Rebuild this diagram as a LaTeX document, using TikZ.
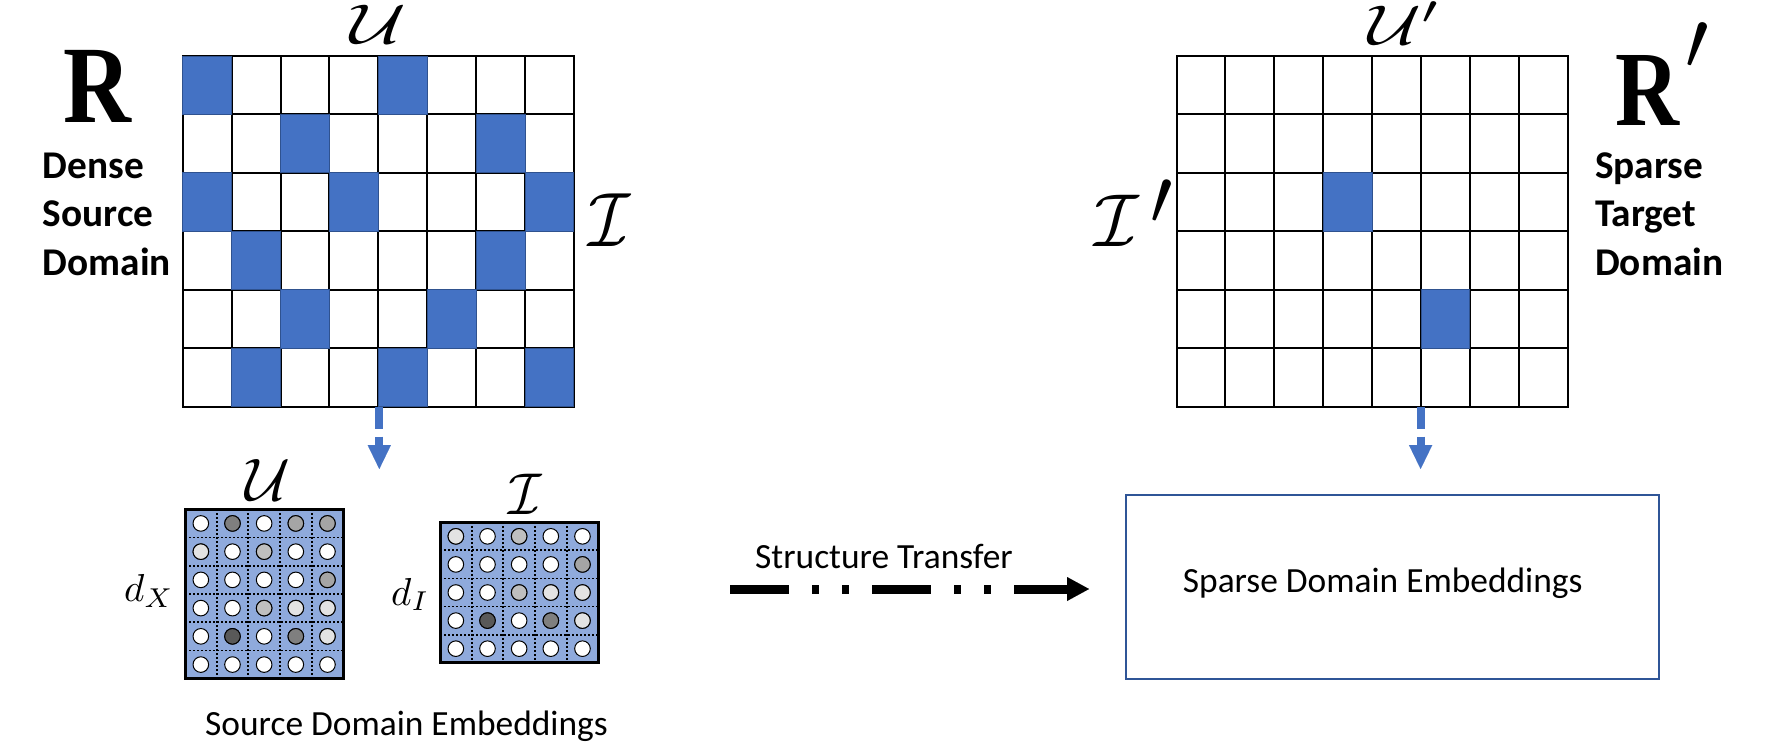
\documentclass[tikz,border=0pt]{standalone}
\usepackage{fontspec}
\setsansfont{Carlito}
\newfontfamily\rserif{Liberation Serif}
\usetikzlibrary{arrows.meta}
\definecolor{cblue}{HTML}{4472C4}
\definecolor{cbluedark}{HTML}{2F528F}
\definecolor{cemb}{HTML}{8FAADC}
\definecolor{cbox}{HTML}{2F5597}
\definecolor{ga}{HTML}{E3E3E3}
\definecolor{gb}{HTML}{BFBFBF}
\definecolor{gc}{HTML}{A5A5A5}
\definecolor{gd}{HTML}{7F7F7F}
\definecolor{ge}{HTML}{595959}
\newcommand{\mathlab}[3]{\scalebox{#1}[#2]{\normalsize$#3$}}
\begin{document}
\begin{tikzpicture}[x=1pt,y=-1pt,
  gridline/.style={line width=2pt, draw=black, line cap=rect},
  bluecell/.style={fill=cblue, draw=cbluedark, line width=1pt},
  dotline/.style={line width=1.8pt, draw=black, dash pattern=on 2pt off 2pt},
  dotc/.style={draw=black, line width=1pt},
  embborder/.style={draw=black, line width=3pt},
  blueflow/.style={draw=cblue, line width=8pt, dash pattern=on 22.6pt off 7.4pt,
    -{Triangle[length=24pt,width=23.3pt,line width=0.01pt]}},
  transfer/.style={draw=black, line width=9pt,
    dash pattern=on 59pt off 23pt on 7.3pt off 22.7pt on 7.3pt off 22.7pt,
    -{Triangle[length=22pt,width=24pt,line width=0.01pt]}},
  rlab/.style={font=\rserif\bfseries\fontsize{108}{108}\selectfont, inner sep=0pt, anchor=base west},
  boldlab/.style={font=\sffamily\bfseries\fontsize{39.3}{39.3}\selectfont, inner sep=0pt, anchor=base west},
  normlab/.style={font=\sffamily\fontsize{35.4}{35.4}\selectfont, inner sep=0pt, anchor=base west},
  cal/.style={inner sep=0pt}
]
\useasboundingbox (0,0) rectangle (1787,753);

% ---------- left matrix R ----------
\foreach \i in {0,...,8}{\draw[gridline] ({182.7+48.9*\i},56) -- ({182.7+48.9*\i},406.7);}
\foreach \j in {0,...,6}{\draw[gridline] (182.7,{56+58.45*\j}) -- (573.9,{56+58.45*\j});}
\foreach \r/\c in {0/0,0/4,1/2,1/6,2/0,2/3,2/7,3/1,3/6,4/2,4/5,5/1,5/4,5/7}{
  \draw[bluecell] ({182.7+48.9*\c},{56+58.45*\r}) rectangle ++(48.9,58.45);}

\node[cal, anchor=base] (Utop) at (378,43) {\mathlab{7.7}{5.6}{\mathcal{U}}};
\node[cal, anchor=base] (Iright) at (610,246) {\mathlab{6.8}{7.7}{\mathcal{I}}};
\node[rlab] (Rleft) at (63,122) {\scalebox{0.87}[1.02]{R}};
\node[boldlab] (dense) at (42.7,178.5) {Dense};
\node[boldlab] (source) at (42.7,226.7) {Source};
\node[boldlab] (domainL) at (42.7,275) {Domain};

% ---------- right matrix R' ----------
\foreach \i in {0,...,8}{\draw[gridline] ({1176.5+48.9*\i},56) -- ({1176.5+48.9*\i},406.7);}
\foreach \j in {0,...,6}{\draw[gridline] (1176.5,{56+58.45*\j}) -- (1567.7,{56+58.45*\j});}
\foreach \r/\c in {2/3,4/5}{
  \draw[bluecell] ({1176.5+48.9*\c},{56+58.45*\r}) rectangle ++(48.9,58.45);}

\node[cal, anchor=base west] (Uptop) at (1368,44) {\mathlab{7.3}{5.6}{\mathcal{U}'}};
\node[cal, anchor=base west] (Ipleft) at (1094,246)
  {\mathlab{7.2}{7.5}{\mathcal{I}}\kern12pt\raisebox{22pt}{\mathlab{8}{8}{\prime}}};
\node[rlab] (Rright) at (1615,125)
  {\scalebox{0.82}[0.99]{R}\kern6pt\raisebox{56pt}{\mathlab{8.4}{8.4}{\prime}}};
\node[boldlab] (sparse) at (1595,178.5) {Sparse};
\node[boldlab] (target) at (1595,226.7) {Target};
\node[boldlab] (domainR) at (1595,275) {Domain};

% ---------- blue arrows ----------
\coordinate (la0) at (379.3,406.7);
\coordinate (la1) at (379.3,469);
\draw[blueflow] (la0) -- (la1);
\coordinate (ra0) at (1420.6,406.7);
\coordinate (ra1) at (1420.6,469);
\draw[blueflow] (ra0) -- (ra1);

% ---------- embedding box U ----------
\fill[cemb] (185,509.3) rectangle (343.3,678.7);
\foreach \i in {1,...,4}{\draw[dotline] ({185+31.66*\i},509.3) -- ++(0,169.4);}
\foreach \j in {1,...,5}{\draw[dotline] (185,{509.3+28.23*\j}) -- ++(158.3,0);}
\foreach \r in {0,...,5}{\foreach \c in {0,...,4}{
  \draw[dotc, fill=white] ({185+31.66*(\c+0.5)},{509.3+28.23*(\r+0.5)}) circle[radius=7.8pt];}}
\foreach \r/\c/\g in {0/1/gd,0/3/gc,0/4/gc,1/0/ga,1/2/gb,2/4/gc,3/2/gb,3/3/ga,3/4/ga,4/1/ge,4/3/gd,4/4/ga}{
  \draw[dotc, fill=\g] ({185+31.66*(\c+0.5)},{509.3+28.23*(\r+0.5)}) circle[radius=7.8pt];}
\draw[embborder] (185,509.3) rectangle (343.3,678.7);
\node[cal, anchor=base] (Uemb) at (267.5,500) {\mathlab{6.2}{6.0}{\mathcal{U}}};
\node[cal, anchor=base west] (dX) at (124,601.7) {\mathlab{3.9}{3.9}{d_X}};

% ---------- embedding box I ----------
\fill[cemb] (440,522.3) rectangle (598.3,662.7);
\foreach \i in {1,...,4}{\draw[dotline] ({440+31.66*\i},522.3) -- ++(0,140.4);}
\foreach \j in {1,...,4}{\draw[dotline] (440,{522.3+28.08*\j}) -- ++(158.3,0);}
\foreach \r in {0,...,4}{\foreach \c in {0,...,4}{
  \draw[dotc, fill=white] ({440+31.66*(\c+0.5)},{522.3+28.08*(\r+0.5)}) circle[radius=7.8pt];}}
\foreach \r/\c/\g in {0/0/ga,0/2/gb,1/4/gc,2/2/gb,2/3/ga,2/4/ga,3/1/ge,3/3/gd,3/4/ga}{
  \draw[dotc, fill=\g] ({440+31.66*(\c+0.5)},{522.3+28.08*(\r+0.5)}) circle[radius=7.8pt];}
\draw[embborder] (440,522.3) rectangle (598.3,662.7);
\node[cal, anchor=base] (Iemb) at (525,514) {\mathlab{5.4}{5.9}{\mathcal{I}}};
\node[cal, anchor=base west] (dI) at (391,605) {\mathlab{3.9}{3.9}{d_I}};

\node[normlab] (srcemb) at (205,735) {Source Domain Embeddings};

% ---------- structure transfer ----------
\node[normlab] (sttext) at (755,568.3) {Structure Transfer};
\coordinate (st0) at (730,589);
\coordinate (st1) at (1089,589);
\draw[transfer] (st0) -- (st1);

% ---------- sparse domain embeddings ----------
\node[draw=cbox, line width=2pt, minimum width=533.3pt, minimum height=183.7pt, inner sep=0pt] (sbox) at (1392.35,586.85) {};
\node[normlab] (sbtext) at (1182.7,592.7) {Sparse Domain Embeddings};
\end{tikzpicture}
\end{document}
